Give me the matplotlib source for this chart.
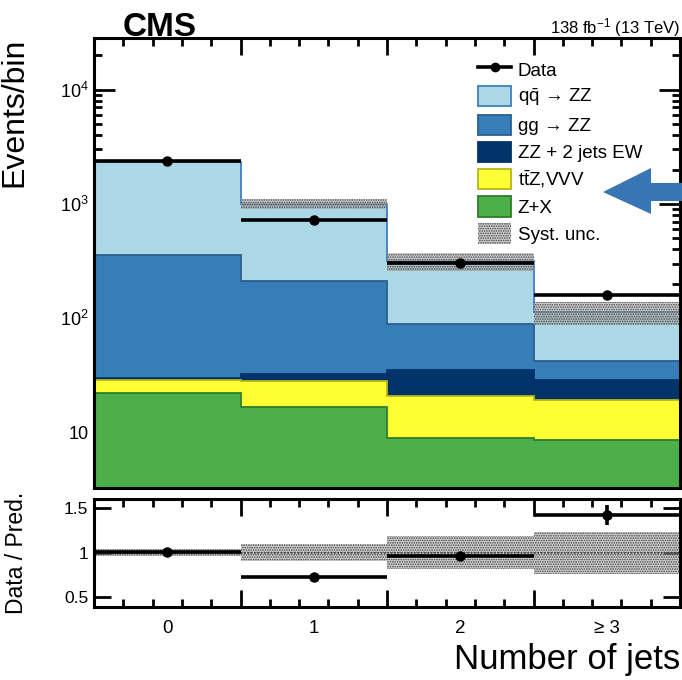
import numpy as np
import matplotlib
matplotlib.use("Agg")
import matplotlib.pyplot as plt
from matplotlib.patches import Patch, Polygon
from matplotlib.lines import Line2D
from matplotlib.ticker import FixedLocator, LogLocator, NullFormatter, FixedFormatter

plt.rcParams['font.family'] = ['Liberation Sans', 'DejaVu Sans']
plt.rcParams['mathtext.fontset'] = 'custom'
plt.rcParams['mathtext.rm'] = 'Liberation Sans'
plt.rcParams['mathtext.it'] = 'Liberation Sans:italic'
plt.rcParams['mathtext.bf'] = 'Liberation Sans:bold'
plt.rcParams['hatch.linewidth'] = 0.8

# ---------------- data ----------------
categories = ["0", "1", "2", "≥ 3"]
bin_edges = [-0.5, 0.5, 1.5, 2.5, 3.5]
zx = [22.0, 16.6, 8.9, 8.5]            # Z+X
ttz_vvv = [6.8, 11.6, 12.0, 10.5]     # ttZ, VVV
zz_ew = [0.8, 4.0, 14.3, 9.8]         # ZZ + 2 jets EW
gg_zz = [327, 179, 53.5, 12.9]        # gg -> ZZ
qq_zz = [1993, 789, 227, 71.3]        # qqbar -> ZZ
data = [2370, 730, 302, 160]
data_err = [48, 27, 17, 12.6]
syst_rel = [0.035, 0.10, 0.18, 0.235]

edges = np.array(bin_edges)
centers = 0.5 * (edges[:-1] + edges[1:])
halfw = 0.5 * np.diff(edges)

components = [
    (zx, '#4daf4a', '#2e7d2b', 'Z+X'),
    (ttz_vvv, '#ffff33', '#b5b520', r't$\bar{\mathrm{t}}$Z,VVV'),
    (zz_ew, '#02346a', '#02346a', 'ZZ + 2 jets EW'),
    (gg_zz, '#377eb8', '#2a5f8f', 'gg → ZZ'),
    (qq_zz, '#acd7e5', '#3f7fbf', r'q$\bar{\mathrm{q}}$ → ZZ'),
]

band_fc = (0.70, 0.70, 0.70, 0.6)
band_hc = '#444444'

W, H = 682, 680
fig = plt.figure(figsize=(W / 100, H / 100), dpi=100)

def fx(px):
    return px / W

def fy(py):
    return 1 - py / H

ax = fig.add_axes([fx(94), fy(488), fx(680) - fx(94), fy(38) - fy(488)])
axr = fig.add_axes([fx(94), fy(607), fx(680) - fx(94), fy(499) - fy(607)])

# ---------------- top panel ----------------
bottom = np.full(4, 1e-3)
for vals, fc, ec, lab in components:
    top = bottom + np.array(vals)
    ax.stairs(top, edges, baseline=bottom, fill=True, facecolor=fc, edgecolor='none', lw=0, zorder=2)
    ax.stairs(top, edges, baseline=None, fill=False, color=ec, lw=1.3, zorder=3)
    bottom = top
total = bottom

rel = np.array(syst_rel)
ax.stairs(total * (1 + rel), edges, baseline=total * (1 - rel), fill=True,
          facecolor=band_fc, edgecolor=band_hc, hatch='.......', lw=0, zorder=4)

ax.errorbar(centers, data, xerr=halfw, yerr=data_err, fmt='o', color='black',
            ms=6.5, elinewidth=2.6, capsize=0, zorder=6)

ax.set_yscale('log')
ax.set_ylim(3.25, 28400)
ax.set_xlim(edges[0], edges[-1])
ax.yaxis.set_minor_locator(LogLocator(base=10, subs=np.arange(2, 10), numticks=20))
ax.yaxis.set_minor_formatter(NullFormatter())
ax.set_yticks([10, 100, 1000, 10000])
ax.set_yticklabels(['10', r'10$^{2}$', r'10$^{3}$', r'10$^{4}$'])

xmin_ticks = np.arange(edges[0], edges[-1] + 1e-6, 0.2)
for a in (ax, axr):
    a.xaxis.set_major_locator(FixedLocator(edges))
    a.xaxis.set_minor_locator(FixedLocator(xmin_ticks))
    a.tick_params(axis='both', which='major', direction='in', length=12, width=2,
                  top=True, right=True, labelsize=13, pad=4)
    a.tick_params(axis='both', which='minor', direction='in', length=6, width=2,
                  top=True, right=True)
    a.tick_params(axis='x', which='both', labelbottom=False)
    for s in a.spines.values():
        s.set_linewidth(2.2)
        s.set_zorder(10)
ax.tick_params(axis='y', which='major', length=15)

ax.set_ylabel('Events/bin', fontsize=23, loc='top', labelpad=22)

# ---------------- legend ----------------
handles = [Line2D([0], [0], color='black', lw=2.6, marker='o', ms=6)]
labels = ['Data']
for vals, fc, ec, lab in components[::-1]:
    handles.append(Patch(facecolor=fc, edgecolor=ec, lw=1.3))
    labels.append(lab)
handles.append(Patch(facecolor=band_fc, edgecolor=band_hc, hatch='.......', lw=0))
labels.append('Syst. unc.')
leg = ax.legend(handles, labels, loc='upper left', bbox_to_anchor=(0.643, 0.97),
                frameon=False, fontsize=13.5, handlelength=1.75, handleheight=1.3,
                handletextpad=0.35, labelspacing=0.34, borderaxespad=0)
leg.set_zorder(12)

# ---------------- ratio panel ----------------
ratio = np.array(data) / total
ratio_err = np.array(data_err) / total
axr.stairs(1 + rel, edges, baseline=1 - rel, fill=True,
           facecolor=band_fc, edgecolor=band_hc, hatch='.......', lw=0, zorder=2)
axr.axhline(1.0, color='#444444', lw=1.2, ls=(0, (1, 1)), zorder=3)
axr.errorbar(centers, ratio, xerr=halfw, yerr=ratio_err, fmt='o', color='black',
             ms=6.5, elinewidth=2.6, capsize=0, zorder=6)
axr.set_xlim(edges[0], edges[-1])
axr.set_ylim(0.39, 1.6)
axr.yaxis.set_major_locator(FixedLocator([0.5, 1.0, 1.5]))
axr.yaxis.set_major_formatter(FixedFormatter(['0.5', '1', '1.5']))
axr.yaxis.set_minor_locator(FixedLocator([]))
axr.tick_params(axis='y', which='major', labelsize=12.5, length=12)
axr.set_ylabel('Data / Pred.', fontsize=16.5, labelpad=10)
axr.yaxis.set_label_coords(-0.112, 0.5)

for c, lab in zip(centers, categories):
    axr.text(c, -0.12, lab, transform=axr.get_xaxis_transform(), ha='center', va='top', fontsize=13.5)

fig.text(fx(680), fy(669), 'Number of jets', ha='right', va='baseline', fontsize=25)

# ---------------- header texts ----------------
fig.text(fx(123), fy(36), 'CMS', fontsize=24, fontweight='bold', ha='left', va='baseline')
fig.text(fx(680), fy(33), r'138 fb$^{-1}$ (13 TeV)', fontsize=12, ha='right', va='baseline')

# ---------------- arrow ----------------
arrow_pts = [(603, 192), (651, 168), (651, 183), (682, 183), (682, 201), (651, 201), (651, 214)]
arrow = Polygon([(fx(x), fy(y)) for x, y in arrow_pts], closed=True, transform=fig.transFigure,
                facecolor='#3775b5', edgecolor='none', zorder=20)
fig.patches.append(arrow)

fig.savefig('out.png', dpi=100)
